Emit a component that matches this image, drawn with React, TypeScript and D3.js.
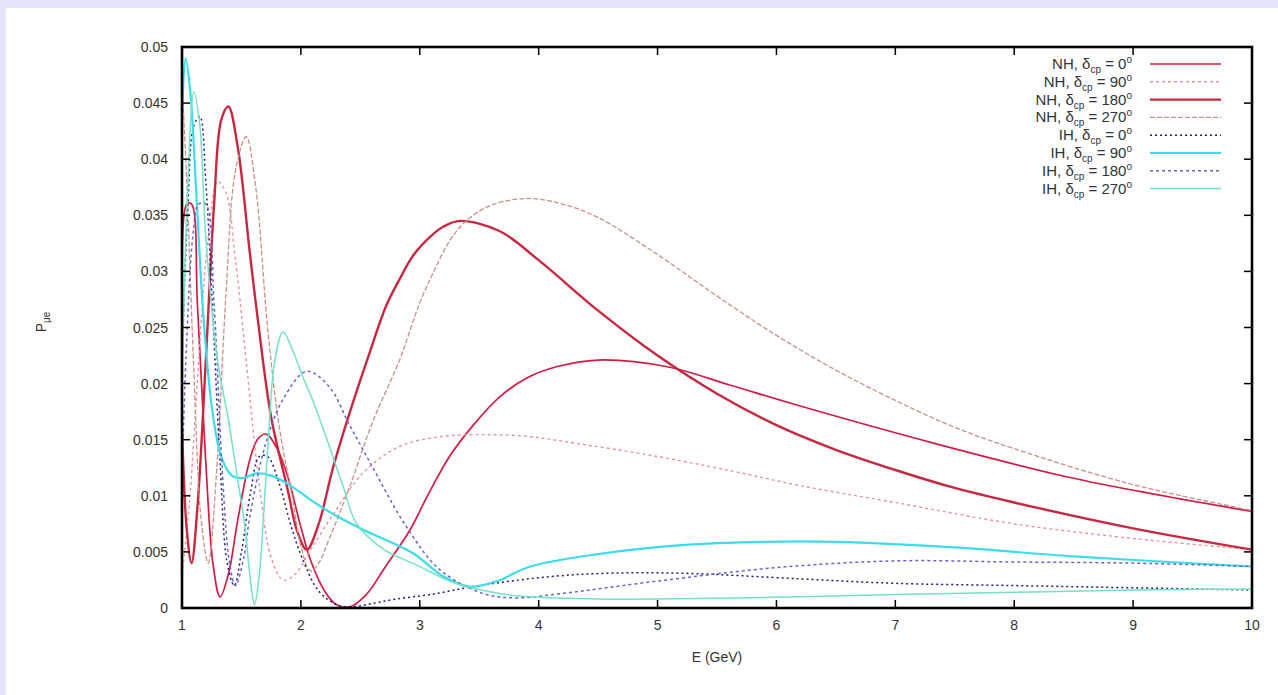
import React, { useEffect, useRef } from 'react';
import * as d3 from 'd3';

// E (GeV), P
const nh0 = [[1.0, 0.028], [1.04, 0.036], [1.08, 0.036], [1.13, 0.027], [1.2, 0.013], [1.26, 0.004], [1.32, 0.001], [1.39, 0.003], [1.47, 0.0079], [1.57, 0.0132], [1.64, 0.0151], [1.71, 0.0155], [1.8, 0.0142], [1.89, 0.0117], [2.0, 0.0072], [2.08, 0.0043], [2.2, 0.0015], [2.3, 0.0003], [2.41, 0.0001], [2.55, 0.0012], [2.7, 0.0035], [2.92, 0.007], [3.06, 0.0099], [3.25, 0.0135], [3.45, 0.0163], [3.67, 0.0188], [3.9, 0.0205], [4.15, 0.0215], [4.5, 0.0221], [5.08, 0.0215], [5.6, 0.0199], [6.2, 0.018], [7.32, 0.0147], [8.44, 0.0117], [9.2, 0.0101], [10, 0.0086]];
const nh90 = [[1.0, 0.003], [1.06, 0.009], [1.14, 0.022], [1.22, 0.033], [1.3, 0.038], [1.37, 0.037], [1.45, 0.031], [1.55, 0.021], [1.65, 0.011], [1.75, 0.0045], [1.85, 0.0025], [1.95, 0.003], [2.1, 0.0055], [2.3, 0.0088], [2.52, 0.012], [2.83, 0.0144], [3.2, 0.0153], [3.53, 0.01545], [3.9, 0.0153], [4.24, 0.0148], [5.0, 0.0135], [5.63, 0.0122], [6.2, 0.0109], [7.0, 0.0094], [8.0, 0.0075], [9.0, 0.0062], [10, 0.0052]];
const nh180 = [[1.0, 0.016], [1.04, 0.007], [1.08, 0.004], [1.13, 0.009], [1.2, 0.022], [1.27, 0.036], [1.33, 0.0435], [1.39, 0.0447], [1.47, 0.041], [1.57, 0.0317], [1.64, 0.0255], [1.75, 0.017], [1.89, 0.0105], [1.97, 0.0068], [2.05, 0.0052], [2.15, 0.0075], [2.27, 0.0125], [2.41, 0.0174], [2.57, 0.0225], [2.72, 0.027], [2.83, 0.0293], [2.95, 0.0315], [3.11, 0.0333], [3.2, 0.034], [3.34, 0.0345], [3.67, 0.0336], [4.0, 0.031], [4.5, 0.0265], [5.0, 0.0225], [5.5, 0.0191], [6.0, 0.0163], [6.5, 0.0141], [7.0, 0.0123], [7.5, 0.0107], [8.0, 0.0094], [9.0, 0.0071], [10, 0.0052]];
const nh270 = [[1.0, 0.047], [1.04, 0.038], [1.1, 0.021], [1.16, 0.008], [1.22, 0.004], [1.29, 0.012], [1.37, 0.028], [1.45, 0.039], [1.54, 0.042], [1.62, 0.0375], [1.72, 0.025], [1.82, 0.016], [1.93, 0.0098], [2.0, 0.0055], [2.08, 0.0033], [2.15, 0.004], [2.24, 0.0062], [2.4, 0.0105], [2.6, 0.0165], [2.83, 0.0221], [3.0, 0.0272], [3.11, 0.0298], [3.25, 0.0327], [3.39, 0.0345], [3.6, 0.0359], [3.9, 0.0365], [4.2, 0.036], [4.5, 0.0348], [5.0, 0.0315], [5.5, 0.0278], [6.0, 0.0243], [6.5, 0.0212], [7.0, 0.0185], [7.5, 0.0161], [8.0, 0.0142], [9.0, 0.011], [10, 0.0087]];
const ih0 = [[1.0, 0.022], [1.05, 0.036], [1.1, 0.043], [1.15, 0.0438], [1.2, 0.038], [1.26, 0.026], [1.32, 0.013], [1.38, 0.004], [1.44, 0.002], [1.5, 0.005], [1.58, 0.0105], [1.65, 0.0135], [1.72, 0.0135], [1.82, 0.011], [1.92, 0.0072], [2.02, 0.0042], [2.15, 0.0015], [2.3, 0.0003], [2.42, 0.0001], [2.6, 0.0004], [2.8, 0.0008], [3.09, 0.0012], [3.5, 0.002], [4.1, 0.0028], [4.6, 0.0031], [5.2, 0.0031], [6.2, 0.0026], [7, 0.0022], [8, 0.002], [9, 0.0018], [10, 0.0016]];
const ih90 = [[1.0, 0.044], [1.03, 0.049], [1.07, 0.046], [1.12, 0.037], [1.18, 0.026], [1.25, 0.018], [1.33, 0.0135], [1.42, 0.0118], [1.52, 0.0116], [1.62, 0.012], [1.75, 0.0118], [1.9, 0.011], [2.1, 0.0095], [2.3, 0.0082], [2.52, 0.007], [2.94, 0.0049], [3.2, 0.0028], [3.42, 0.0019], [3.65, 0.0024], [3.93, 0.0037], [4.5, 0.0048], [5.2, 0.0056], [5.9, 0.0059], [6.5, 0.0059], [7.5, 0.0054], [8.5, 0.0046], [10, 0.0037]];
const ih180 = [[1.0, 0.012], [1.04, 0.024], [1.09, 0.033], [1.14, 0.036], [1.2, 0.036], [1.27, 0.027], [1.34, 0.012], [1.4, 0.004], [1.45, 0.002], [1.52, 0.0045], [1.57, 0.0081], [1.7, 0.0145], [1.85, 0.0186], [2.05, 0.0211], [2.24, 0.0197], [2.4, 0.0165], [2.58, 0.013], [2.89, 0.0072], [3.17, 0.0034], [3.53, 0.0013], [3.8, 0.0009], [4.2, 0.0013], [5, 0.0024], [6, 0.0036], [7, 0.0042], [8, 0.0041], [9, 0.004], [10, 0.0037]];
const ih270 = [[1.0, 0.02], [1.05, 0.038], [1.1, 0.046], [1.15, 0.043], [1.2, 0.033], [1.3, 0.022], [1.39, 0.0168], [1.46, 0.012], [1.53, 0.0072], [1.57, 0.003], [1.61, 0.0003], [1.65, 0.003], [1.72, 0.014], [1.78, 0.022], [1.85, 0.0246], [1.93, 0.023], [2.02, 0.0205], [2.1, 0.0185], [2.22, 0.015], [2.35, 0.011], [2.47, 0.0075], [2.7, 0.0052], [2.98, 0.0038], [3.3, 0.0022], [3.67, 0.0013], [3.93, 0.001], [4.5, 0.0008], [5, 0.0008], [6.2, 0.001], [7, 0.0012], [8, 0.0014], [9, 0.0016], [10, 0.0017]];

const hierarchy = ['NH', 'NH', 'NH', 'NH', 'IH', 'IH', 'IH', 'IH'];
const deltas = ['0', '90', '180', '270', '0', '90', '180', '270'];
const seriesData = [nh0, nh90, nh180, nh270, ih0, ih90, ih180, ih270];
const xTicks = [1, 2, 3, 4, 5, 6, 7, 8, 9, 10];
const yTicks = [0, 0.005, 0.01, 0.015, 0.02, 0.025, 0.03, 0.035, 0.04, 0.045, 0.05];

const STYLES = [
  { color: '#d21c44', width: 1.7, dash: null },
  { color: '#e8939c', width: 1.4, dash: '3,3' },
  { color: '#c8283f', width: 2.4, dash: null },
  { color: '#c99088', width: 1.3, dash: '5,2' },
  { color: '#1c1c88', width: 1.5, dash: '2,3' },
  { color: '#3cdcec', width: 2.2, dash: null },
  { color: '#6464cc', width: 1.5, dash: '3,3' },
  { color: '#72e2c8', width: 1.5, dash: null },
];

export default function App() {
  const ref = useRef<SVGSVGElement>(null);
  useEffect(() => {
    const W = 1278, H = 695;
    const M = { left: 182, right: 1252, top: 47, bottom: 608 };
    const svg = d3.select(ref.current);
    svg.selectAll('*').remove();
    svg.append('rect').attr('width', W).attr('height', H).attr('fill', '#e5e5fa');
    svg.append('rect').attr('x', 6).attr('y', 8).attr('width', W - 6).attr('height', H - 8).attr('fill', '#fff');

    const x = d3.scaleLinear().domain([1, 10]).range([M.left, M.right]);
    const y = d3.scaleLinear().domain([0, 0.05]).range([M.bottom, M.top]);

    svg.append('clipPath').attr('id', 'plot').append('rect')
      .attr('x', M.left).attr('y', M.top).attr('width', M.right - M.left).attr('height', M.bottom - M.top);

    const line = d3.line<number[]>().x(d => x(d[0])).y(d => y(d[1])).curve(d3.curveCatmullRom.alpha(0.5));
    const g = svg.append('g').attr('clip-path', 'url(#plot)');
    seriesData.forEach((s, i) => {
      const st = STYLES[i];
      g.append('path').datum(s).attr('d', line).attr('fill', 'none')
        .attr('stroke', st.color).attr('stroke-width', st.width)
        .attr('stroke-dasharray', st.dash);
    });

    const font = '"Liberation Sans", Arial, sans-serif';
    const ax = svg.append('g').attr('stroke', '#000').attr('stroke-width', 1.5);
    xTicks.forEach(t => {
      ax.append('line').attr('x1', x(t)).attr('x2', x(t)).attr('y1', M.bottom).attr('y2', M.bottom - 8);
      ax.append('line').attr('x1', x(t)).attr('x2', x(t)).attr('y1', M.top).attr('y2', M.top + 8);
      svg.append('text').attr('x', x(t)).attr('y', 630).attr('text-anchor', 'middle')
        .attr('font-family', font).attr('font-size', 14).attr('fill', '#333').text(t);
    });
    yTicks.forEach(t => {
      ax.append('line').attr('x1', M.left).attr('x2', M.left + 8).attr('y1', y(t)).attr('y2', y(t));
      ax.append('line').attr('x1', M.right).attr('x2', M.right - 8).attr('y1', y(t)).attr('y2', y(t));
      svg.append('text').attr('x', 168).attr('y', y(t) + 5).attr('text-anchor', 'end')
        .attr('font-family', font).attr('font-size', 14).attr('fill', '#333').text(String(t));
    });
    svg.append('rect').attr('x', M.left).attr('y', M.top).attr('width', M.right - M.left).attr('height', M.bottom - M.top)
      .attr('fill', 'none').attr('stroke', '#000').attr('stroke-width', 2.6);

    svg.append('text').attr('x', (M.left + M.right) / 2).attr('y', 662).attr('text-anchor', 'middle')
      .attr('font-family', font).attr('font-size', 14).attr('fill', '#333').text('E (GeV)');
    const yl = svg.append('text').attr('transform', 'translate(46,322) rotate(-90)').attr('text-anchor', 'middle')
      .attr('font-family', font).attr('font-size', 14).attr('fill', '#333');
    yl.append('tspan').text('P');
    yl.append('tspan').attr('font-size', 10).attr('dy', 4).text('μe');

    const lg = svg.append('g');
    hierarchy.forEach((h, i) => {
      const ly = 64 + i * 17.8;
      const t = lg.append('text').attr('x', 1132).attr('y', ly + 5).attr('text-anchor', 'end')
        .attr('font-family', font).attr('font-size', 15).attr('fill', '#333');
      t.append('tspan').text(`${h}, δ`);
      t.append('tspan').attr('font-size', 10).attr('dy', 4).text('cp');
      t.append('tspan').attr('dy', -4).text(` = ${deltas[i]}`);
      t.append('tspan').attr('font-size', 10).attr('dy', -6).text('o');
      const st = STYLES[i];
      lg.append('line').attr('x1', 1150).attr('x2', 1221).attr('y1', ly).attr('y2', ly)
        .attr('stroke', st.color).attr('stroke-width', st.width).attr('stroke-dasharray', st.dash);
    });
  }, []);
  return (
    <div style={{ position: 'fixed', left: 0, top: 0 }}>
      <svg ref={ref} width={1278} height={695} style={{ display: 'block' }} />
    </div>
  );
}
